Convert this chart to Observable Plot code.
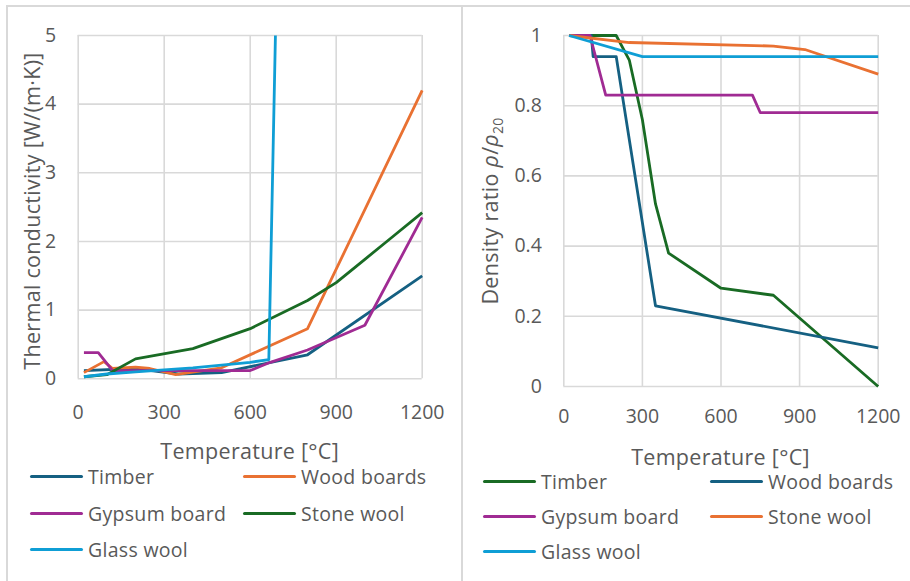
<!DOCTYPE html>
<html>
<head>
<meta charset="utf-8">
<script src="https://cdn.jsdelivr.net/npm/d3@7"></script>
<script src="https://cdn.jsdelivr.net/npm/@observablehq/plot@0.6"></script>
<style>
  html, body { margin: 0; padding: 0; background: #fff; }
  #wrap { position: relative; width: 910px; height: 581px; overflow: hidden; font-family: "Open Sans", sans-serif; color: #595959; }
  .frame { position: absolute; background: #d9d9d9; }
  .ttl { position: absolute; font-size: 21.5px; letter-spacing: 0.3px; white-space: nowrap; color: #595959; }
  .rot { transform: translate(-50%, -50%) rotate(-90deg); }
  .hz { transform: translate(-50%, -50%); }
  .leg { position: absolute; font-size: 19.5px; letter-spacing: 0.3px; white-space: nowrap; display: flex; align-items: center; }
  .sw { width: 53px; height: 3px; border-radius: 2px; margin-right: 5px; flex: none; }
</style>
</head>
<body>
<div id="wrap"></div>
<script>
// ---- Series names ----
const seriesNames = ["Timber", "Wood boards", "Gypsum board", "Stone wool", "Glass wool"];

// ---- Thermal conductivity [W/(m·K)] vs temperature [°C] ----
const kTimberT = [20, 200, 350, 500, 800, 1200];
const kTimberV = [0.12, 0.15, 0.07, 0.09, 0.35, 1.5];
const kWoodT = [20, 90, 120, 200, 250, 340, 500, 800, 1200];
const kWoodV = [0.09, 0.25, 0.15, 0.17, 0.15, 0.06, 0.16, 0.73, 4.2];
const kGypsumT = [20, 70, 120, 600, 670, 800, 1000, 1200];
const kGypsumV = [0.38, 0.38, 0.12, 0.12, 0.24, 0.42, 0.78, 2.35];
const kStoneT = [20, 100, 200, 400, 600, 800, 900, 1000, 1100, 1200];
const kStoneV = [0.03, 0.06, 0.29, 0.44, 0.73, 1.14, 1.4, 1.74, 2.08, 2.42];
const kGlassT = [20, 100, 200, 300, 400, 500, 600, 665, 688];
const kGlassV = [0.03, 0.07, 0.1, 0.13, 0.16, 0.2, 0.24, 0.28, 5.0];

// ---- Density ratio rho/rho20 vs temperature [°C] ----
const dTimberT = [20, 99, 120, 200, 250, 300, 350, 400, 600, 800, 1200];
const dTimberV = [1, 1, 1, 1, 0.93, 0.76, 0.52, 0.38, 0.28, 0.26, 0];
const dWoodT = [20, 105, 112, 200, 350, 1200];
const dWoodV = [1, 1, 0.94, 0.94, 0.23, 0.11];
const dGypsumT = [20, 100, 160, 720, 750, 1200];
const dGypsumV = [1, 1, 0.83, 0.83, 0.78, 0.78];
const dStoneT = [20, 250, 800, 920, 1200];
const dStoneV = [1, 0.98, 0.97, 0.96, 0.89];
const dGlassT = [20, 300, 1200];
const dGlassV = [1, 0.94, 0.94];

// ---- Ticks ----
const xTicks = [0, 300, 600, 900, 1200];
const kTicks = [0, 1, 2, 3, 4, 5];
const dTicks = [0, 0.2, 0.4, 0.6, 0.8, 1];

// ---- Colours (per panel, as in the reference) ----
const kColors = ["#156082", "#E97132", "#A02B93", "#196B24", "#0F9ED5"];
const dColors = ["#196B24", "#156082", "#A02B93", "#E97132", "#0F9ED5"];

function rows(pairs) {
  const out = [];
  pairs.forEach(([name, T, V]) => T.forEach((t, i) => out.push({series: name, T: t, v: V[i]})));
  return out;
}
const kData = rows([
  ["Timber", kTimberT, kTimberV], ["Wood boards", kWoodT, kWoodV], ["Gypsum board", kGypsumT, kGypsumV],
  ["Stone wool", kStoneT, kStoneV], ["Glass wool", kGlassT, kGlassV]]);
const dData = rows([
  ["Timber", dTimberT, dTimberV], ["Wood boards", dWoodT, dWoodV], ["Gypsum board", dGypsumT, dGypsumV],
  ["Stone wool", dStoneT, dStoneV], ["Glass wool", dGlassT, dGlassV]]);

const wrap = document.getElementById("wrap");
const gridCol = "#d9d9d9";
const FONT = "Open Sans, sans-serif";

function panel(opts) {
  return Plot.plot({
    width: opts.width, height: 440,
    marginLeft: opts.ml, marginRight: opts.mr, marginTop: 35, marginBottom: opts.mb,
    style: {fontFamily: FONT, fontSize: "19.5px", color: "#595959", background: "transparent", overflow: "visible"},
    x: {domain: [0, 1200], ticks: xTicks, tickFormat: d => String(d)},
    y: {domain: opts.ydomain, ticks: opts.yticks, tickFormat: d => String(d)},
    color: {domain: seriesNames, range: opts.colors},
    marks: [
      Plot.gridX(xTicks, {stroke: gridCol, strokeOpacity: 1, strokeWidth: 1.6}),
      Plot.gridY(opts.yticks, {stroke: gridCol, strokeOpacity: 1, strokeWidth: 1.6}),
      Plot.axisX({ticks: xTicks, tickSize: 0, tickPadding: opts.xpad, label: null, tickFormat: d => String(d), fill: "#595959", fontSize: 19.5}),
      Plot.axisY({ticks: opts.yticks, tickSize: 0, tickPadding: 22, label: null, tickFormat: d => String(d), fill: "#595959", fontSize: 19.5}),
      Plot.line(opts.data, {x: "T", y: "v", z: "series", stroke: "series", strokeWidth: 2.8, strokeLinejoin: "round", strokeLinecap: "butt"})
    ]
  });
}

// frames
function frame(l, t, w, h) { const d = document.createElement("div"); d.className = "frame"; Object.assign(d.style, {left: l + "px", top: t + "px", width: w + "px", height: h + "px"}); wrap.appendChild(d); }
frame(6, 5, 904, 2);
frame(6, 5, 2, 576);
frame(461, 5, 2, 576);

const left = panel({width: 460, ml: 77.7, mr: 38.3, mb: 440 - 378.3, xpad: 26, ydomain: [0, 5], yticks: kTicks, colors: kColors, data: kData});
left.style.position = "absolute"; left.style.left = "0px"; left.style.top = "0px";
wrap.appendChild(left);
const right = panel({width: 450, ml: 103.3, mr: 32.3, mb: 440 - 386, xpad: 23, ydomain: [0, 1], yticks: dTicks, colors: dColors, data: dData});
right.style.position = "absolute"; right.style.left = "460px"; right.style.top = "0px";
wrap.appendChild(right);

function addTitle(html, x, y, rot) {
  const d = document.createElement("div");
  d.className = "ttl " + (rot ? "rot" : "hz");
  d.style.left = x + "px"; d.style.top = y + "px";
  d.innerHTML = html;
  wrap.appendChild(d);
}
addTitle("Thermal conductivity [W/(m·K)]", 31, 211, true);
addTitle("Temperature [°C]", 249.7, 450, false);
addTitle("Density ratio <i>ρ</i>/<i>ρ</i><sub style='font-size:14px'>20</sub>", 491, 211, true);
addTitle("Temperature [°C]", 720.5, 456, false);

function legend(colors, positions) {
  seriesNames.forEach((name, i) => {
    const [x, y] = positions[i];
    const d = document.createElement("div");
    d.className = "leg";
    d.style.left = x + "px"; d.style.top = (y - 13) + "px"; d.style.height = "26px";
    const s = document.createElement("div"); s.className = "sw"; s.style.background = colors[i];
    const t = document.createElement("span"); t.textContent = name;
    d.appendChild(s); d.appendChild(t);
    wrap.appendChild(d);
  });
}
legend(kColors, [[30, 476], [243, 476], [30, 513], [243, 513], [30, 549]]);
legend(dColors, [[483, 481], [710, 481], [483, 516], [710, 516], [483, 551]]);
</script>
</body>
</html>
